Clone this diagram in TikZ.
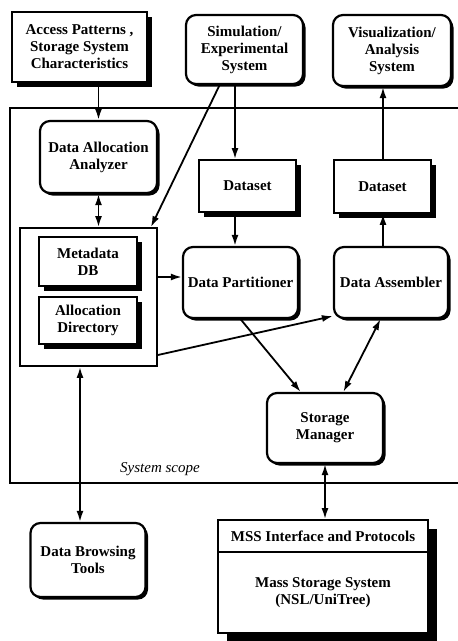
\documentclass[tikz,border=0pt]{standalone}
\usepackage{fontspec}
\setmainfont{Liberation Serif}
\usetikzlibrary{arrows.meta,shadows}

\begin{document}
\begin{tikzpicture}[x=1pt,y=-1pt,
    every node/.style={align=center,inner sep=1pt,font=\bfseries\fontsize{15}{17}\selectfont},
    sqbox/.style={draw,fill=white,line width=1.8pt,
      drop shadow={shadow xshift=#1,shadow yshift=-#1,fill=black,opacity=1}},
    sqbox/.default=5pt,
    rndbox/.style={draw,fill=white,line width=2.2pt,rounded corners=10pt,
      drop shadow={shadow xshift=2.5pt,shadow yshift=-2.5pt,fill=black,opacity=1}},
    arr/.style={line width=1.8pt,-{Latex[length=11pt,width=7pt]}},
    darr/.style={line width=1.8pt,{Latex[length=11pt,width=7pt]}-{Latex[length=11pt,width=7pt]}}]
  \useasboundingbox (0,0) rectangle (458,641);

  % System scope
  \draw[line width=1.5pt] (458,108) -| (10,483) -- (458,483);
  \node[font=\itshape\fontsize{15}{17}\selectfont] (scope) at (160,469) {System scope};

  % Outside the scope
  \node[sqbox,minimum width=135pt,minimum height=70pt] (access) at (79.5,47)
    {Access Patterns ,\\Storage System\\Characteristics};
  \node[rndbox,minimum width=117pt,minimum height=69pt] (sim) at (244.5,49.5)
    {Simulation/\\Experimental\\System};
  \node[rndbox,minimum width=118pt,minimum height=71pt] (vis) at (392,50.5)
    {Visualization/\\Analysis\\System};

  % Inside the scope
  \node[rndbox,minimum width=117pt,minimum height=72pt] (analyzer) at (98.5,157)
    {Data Allocation\\Analyzer};
  \node[sqbox,minimum width=97pt,minimum height=52pt] (dsin) at (247.5,186) {Dataset};
  \node[sqbox,minimum width=97pt,minimum height=53pt] (dsout) at (382.5,186.5) {Dataset};
  \node[draw,fill=white,line width=1.8pt,minimum width=137pt,minimum height=138pt] (meta) at (88.5,297) {};
  \node[sqbox,minimum width=98pt,minimum height=49pt] (metadb) at (88,261.5) {Metadata\\DB};
  \node[sqbox,minimum width=98pt,minimum height=47pt] (allocdir) at (88,320.5) {Allocation\\Directory};
  \node[rndbox,minimum width=115pt,minimum height=71pt] (partitioner) at (240.5,282.5) {Data Partitioner};
  \node[rndbox,minimum width=114pt,minimum height=71pt] (assembler) at (391,282.5) {Data Assembler};
  \node[rndbox,minimum width=116pt,minimum height=70pt] (storage) at (325,428) {Storage\\Manager};

  % Below the scope
  \node[rndbox,minimum width=115pt,minimum height=74pt] (browse) at (88,560) {Data Browsing\\Tools};
  \node[sqbox=9pt,minimum width=210pt,minimum height=113pt] (mss) at (323,576.5) {};
  \node (mssif) at (323,536) {MSS Interface and Protocols};
  \node (mssys) at (323,593) {Mass Storage System\\(NSL/UniTree)};
  \coordinate (hline) at (0,552);
  \draw[line width=1.5pt] (mss.west |- hline) -- (mss.east |- hline);

  % Columns and rows for the connectors
  \coordinate (colin) at (235,0);
  \coordinate (colout) at (383,0);
  \coordinate (colbr) at (80,0);
  \coordinate (rowdb) at (0,277);
  \coordinate (rowad) at (0,355);

  \draw[arr] (access.south -| analyzer) -- (analyzer.north);
  \draw[darr] (analyzer.south) -- (analyzer.south |- meta.north);
  \draw[arr] (sim.-125) -- ([xshift=-7pt]meta.north east);
  \draw[arr] (sim.south -| colin) -- (dsin.north -| colin);
  \draw[arr] (dsin.south -| colin) -- (partitioner.north -| colin);
  \draw[arr] (meta.east |- rowdb) -- (partitioner.west |- rowdb);
  \draw[arr] (meta.east |- rowad) -- (assembler.210);
  \draw[arr] (assembler.north -| colout) -- (dsout.south -| colout);
  \draw[arr] (dsout.north -| colout) -- (vis.south -| colout);
  \draw[arr] (partitioner.south) -- (storage.124);
  \draw[darr] (assembler.254) -- (storage.63);
  \draw[darr] (storage.south) -- (storage.south |- mss.north);
  \draw[darr] (meta.south -| colbr) -- (browse.north -| colbr);
\end{tikzpicture}
\end{document}
